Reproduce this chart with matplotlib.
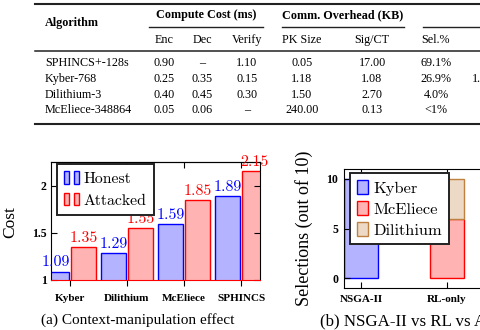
import numpy as np
import matplotlib
matplotlib.use("Agg")
from matplotlib import pyplot as plt
from matplotlib.lines import Line2D
from matplotlib.patches import Patch
from matplotlib.legend_handler import HandlerTuple

# ---- table data ----
algorithms = ["SPHINCS+-128s", "Kyber-768", "Dilithium-3", "McEliece-348864"]
enc_ms = ["0.90", "0.25", "0.40", "0.05"]
dec_ms = ["–", "0.35", "0.45", "0.06"]
verify_ms = ["1.10", "0.15", "0.30", "–"]
pk_size_kb = ["0.05", "1.18", "1.50", "240.00"]
sig_ct_kb = ["17.00", "1.08", "2.70", "0.13"]
sel_pct = ["69.1%", "26.9%", "4.0%", "<1%"]
last_col = ["", "1.0", "", ""]

# ---- (a) context manipulation ----
schemes = ["Kyber", "Dilithium", "McEliece", "SPHINCS"]
honest = [1.09, 1.29, 1.59, 1.89]
attacked = [1.35, 1.55, 1.85, 2.15]

# ---- (b) selections out of 10 runs ----
methods = ["NSGA-II", "RL-only"]
kyber_sel = [10, 0]
mceliece_sel = [0, 6]
dilithium_sel = [0, 4]

BLUE, BLUE_F = "#0000ff", "#b3b3ff"
RED, RED_F = "#ff0000", "#ffb3b3"
BROWN, BROWN_F = "#bf8040", "#ecd9c6"
SERIF = ["Liberation Serif", "DejaVu Serif"]
CM = ["cmr10", "DejaVu Serif"]

plt.rcParams["font.family"] = SERIF


def fx(px):
    return px / 480.0


def fy(py):
    return 1.0 - py / 330.0


fig = plt.figure(figsize=(4.8, 3.3), dpi=100)


def rule(x0, x1, y, lw):
    fig.add_artist(Line2D([fx(x0), fx(x1)], [fy(y), fy(y)],
                          transform=fig.transFigure, lw=lw, color="#222222"))


def cell(x, y, s, ha="center", bold=False):
    fig.text(fx(x), fy(y), s, ha=ha, va="center", fontsize=8.7,
             fontweight="bold" if bold else "normal")


# table rules
rule(35, 480, 4, 1.5)
rule(149, 263, 27, 1.0)
rule(282, 404, 27, 1.0)
rule(423, 480, 27, 1.0)
rule(35, 480, 51, 1.1)
rule(35, 480, 124, 1.5)

cell(45, 23, "Algorithm", ha="left", bold=True)
cell(206, 15, "Compute Cost (ms)", bold=True)
cell(343, 15, "Comm. Overhead (KB)", bold=True)
col_x = [164, 202, 247, 302, 372, 436]
for cx, name in zip(col_x, ["Enc", "Dec", "Verify", "PK Size", "Sig/CT", "Sel.%"]):
    cell(cx, 40, name)

row_y = [63, 79, 95, 110]
for i, ry in enumerate(row_y):
    cell(45, ry, algorithms[i], ha="left")
    vals = [enc_ms[i], dec_ms[i], verify_ms[i], pk_size_kb[i], sig_ct_kb[i], sel_pct[i]]
    for cx, v in zip(col_x, vals):
        cell(cx, ry, v)
    if last_col[i]:
        cell(472, ry, last_col[i], ha="left")

# ---- panel (a) ----
ax = fig.add_axes([fx(51), fy(280), fx(260) - fx(51), fy(162) - fy(280)])
x = np.arange(len(schemes))
w, off = 0.44, 0.24
ax.bar(x - off, honest, w, color=BLUE_F, edgecolor=BLUE, lw=1.0)
ax.bar(x + off, attacked, w, color=RED_F, edgecolor=RED, lw=1.0)
for xi, v in zip(x - off, honest):
    ax.annotate(f"{v:.2f}", (xi, v), xytext=(0, 1.5), textcoords="offset points",
                ha="center", va="bottom", color=BLUE, fontsize=11.5, family=CM)
for xi, v in zip(x + off, attacked):
    ax.annotate(f"{v:.2f}", (xi, v), xytext=(0, 1.5), textcoords="offset points",
                ha="center", va="bottom", color=RED, fontsize=11.5, family=CM)

ax.set_xlim(-0.33, 3.33)
ax.set_ylim(1, 2.25)
ax.set_yticks([1, 1.5, 2], ["1", "1.5", "2"])
ax.set_xticks(x, schemes)
for t in ax.get_xticklabels() + ax.get_yticklabels():
    t.set_fontweight("bold")
ax.tick_params(axis="x", direction="out", length=4, width=0.8, pad=6, labelsize=8)
ax.tick_params(axis="y", direction="in", length=4, width=0.8, right=True, pad=3, labelsize=8.5)
top = ax.secondary_xaxis("top")
top.set_xticks(x, labels=[])
top.tick_params(direction="in", length=4, width=0.8)
ax.spines["bottom"].set_color(RED)
ax.set_ylabel("Cost", fontsize=12.5)
ax.yaxis.set_label_coords(-0.158, 0.49)

pair = {tuple: HandlerTuple(ndivide=None, pad=0.32)}
leg = ax.legend([(Patch(fc=BLUE_F, ec=BLUE), Patch(fc=BLUE_F, ec=BLUE)),
                 (Patch(fc=RED_F, ec=RED), Patch(fc=RED_F, ec=RED))],
                ["Honest", "Attacked"], handler_map=pair,
                loc="upper left", bbox_to_anchor=(0.029, 0.983), borderaxespad=0,
                fancybox=False, framealpha=1, edgecolor="#222222",
                prop={"family": CM, "size": 11.3}, handlelength=0.96,
                handleheight=0.85, handletextpad=0.3, borderpad=0.45,
                labelspacing=0.45)
leg.get_frame().set_linewidth(1.4)

fig.text(fx(137.5), fy(320), "(a) Context-manipulation effect",
         ha="center", va="center", fontsize=11)

# ---- panel (b) ----
ax2 = fig.add_axes([fx(344), fy(288), 206 / 480, fy(169) - fy(288)])
xm = np.arange(len(methods))
bw = 0.4
stacks = [(kyber_sel, BLUE_F, BLUE, "Kyber"),
          (mceliece_sel, RED_F, RED, "McEliece"),
          (dilithium_sel, BROWN_F, BROWN, "Dilithium")]
base = np.zeros(len(methods))
for vals, fc, ec, name in stacks:
    vals = np.array(vals, dtype=float)
    keep = vals > 0
    ax2.bar(xm[keep], vals[keep], bw, bottom=base[keep], color=fc, edgecolor=ec, lw=1.0)
    base = base + vals

ax2.set_xlim(-0.2, 2.2)
ax2.set_ylim(-1, 11)
ax2.set_yticks([0, 5, 10])
ax2.set_xticks(xm, methods)
for t in ax2.get_xticklabels() + ax2.get_yticklabels():
    t.set_fontweight("bold")
ax2.tick_params(axis="both", direction="in", length=4, width=0.8, top=True, right=True)
ax2.tick_params(axis="x", pad=5, labelsize=8)
ax2.tick_params(axis="y", pad=4, labelsize=8.5)
ax2.set_ylabel("Selections (out of 10)", fontsize=13)
ax2.yaxis.set_label_coords(-0.150, 0.504)

leg2 = ax2.legend([Patch(fc=fc, ec=ec) for _, fc, ec, _ in stacks],
                  [name for *_, name in stacks],
                  loc="upper left", bbox_to_anchor=(0.029, 0.966), borderaxespad=0,
                  fancybox=False, framealpha=1, edgecolor="#222222",
                  prop={"family": CM, "size": 11.8}, handlelength=0.7,
                  handleheight=0.95, handletextpad=0.3, borderpad=0.42,
                  labelspacing=0.32)
leg2.get_frame().set_linewidth(1.4)

fig.text(fx(320), fy(322), "(b) NSGA-II vs RL vs Agent",
         ha="left", va="center", fontsize=12.2)

fig.savefig("out.png", dpi=100)
